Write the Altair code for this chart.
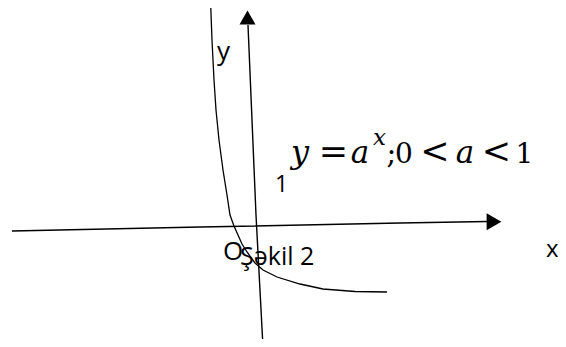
import altair as alt
import pandas as pd

# ---- diagram geometry (picture coordinates, y grows downward) ----
# vertical axis (bottom -> top, ends under the arrow head)
yaxis_x = [263, 256, 252, 248]
yaxis_y = [347, 215, 120, 25]
# horizontal axis (left -> right, ends under the arrow head)
xaxis_x = [12, 200, 400, 487]
xaxis_y = [231, 227, 223, 221.5]
# curve y = a^x, 0 < a < 1
curve_x = [210.5, 212, 214, 216, 219, 223, 227, 230, 234, 238, 242, 247, 255, 263, 277, 300, 323, 355, 387]
curve_y = [0, 40, 80, 110, 140, 170, 195, 215, 226, 235, 244, 252, 263, 270, 277, 284, 289, 291.5, 292]
# arrow heads
arrow_x = [247.5, 494]
arrow_y = [17.5, 221.8]
arrow_shape = ["triangle-up", "triangle-right"]
arrow_size = [256, 289]

# sans labels
label_text = ["y", "1", "O", "Şəkil 2", "x"]
label_x = [217, 275, 223, 240, 546]
label_y = [60, 192, 260, 265, 257]
label_size = [26, 23, 26, 25, 24]

# formula  y = a^x; 0 < a < 1  (upright and italic pieces, glyph centres)
formula_up_text = ["=", ";", "0", "<", "<", "1"]
formula_up_x = [333.5, 391.5, 404, 435, 496.5, 524.5]
formula_up_y = [163.3, 163.3, 163.3, 163.3, 163.3, 163.3]
formula_up_size = [35, 29, 28, 35, 35, 28]
formula_it_text = ["y", "a", "x", "a"]
formula_it_x = [300, 360, 379.5, 465]
formula_it_y = [163.3, 163.3, 145, 163.3]
formula_it_size = [32, 31, 23, 31]

W, H = 550, 331
xs = alt.Scale(domain=[8, 558], nice=False, zero=False)
ys = alt.Scale(domain=[8, 339], nice=False, zero=False, reverse=True)


def X():
    return alt.X("x:Q", scale=xs, axis=None)


def Y():
    return alt.Y("y:Q", scale=ys, axis=None)


def line_df(xv, yv):
    return pd.DataFrame({"x": xv, "y": yv, "o": list(range(len(xv)))})


yaxis = alt.Chart(line_df(yaxis_x, yaxis_y)).mark_line(color="black", strokeWidth=1.4).encode(
    x=X(), y=Y(), order="o:Q")
xaxis = alt.Chart(line_df(xaxis_x, xaxis_y)).mark_line(color="black", strokeWidth=1.5).encode(
    x=X(), y=Y(), order="o:Q")
curve = alt.Chart(line_df(curve_x, curve_y)).mark_line(color="black", strokeWidth=1.3).encode(
    x=X(), y=Y(), order="o:Q")

arrows = []
for ax, ay, sh, sz in zip(arrow_x, arrow_y, arrow_shape, arrow_size):
    arrows.append(
        alt.Chart(pd.DataFrame({"x": [ax], "y": [ay]})).mark_point(
            shape=sh, filled=True, size=sz, color="black", opacity=1, strokeWidth=0
        ).encode(x=X(), y=Y())
    )

labels = alt.Chart(pd.DataFrame({"x": label_x, "y": label_y, "t": label_text, "s": label_size})).mark_text(
    font="Open Sans", align="left", baseline="alphabetic", color="black"
).encode(x=X(), y=Y(), text="t:N", size=alt.Size("s:Q", scale=None))

f_up = alt.Chart(pd.DataFrame({"x": formula_up_x, "y": formula_up_y, "t": formula_up_text, "s": formula_up_size})).mark_text(
    font="DejaVu Serif", align="center", baseline="alphabetic", color="black"
).encode(x=X(), y=Y(), text="t:N", size=alt.Size("s:Q", scale=None))

f_it = alt.Chart(pd.DataFrame({"x": formula_it_x, "y": formula_it_y, "t": formula_it_text, "s": formula_it_size})).mark_text(
    font="DejaVu Serif", fontStyle="italic", align="center", baseline="alphabetic", color="black"
).encode(x=X(), y=Y(), text="t:N", size=alt.Size("s:Q", scale=None))

chart = alt.layer(yaxis, xaxis, curve, *arrows, labels, f_up, f_it).properties(
    width=W, height=H,
    autosize=alt.AutoSizeParams(type="none"),
    padding=0,
    background="white",
).configure_view(stroke=None)

chart.save("out.html", embed_options={"renderer": "svg", "actions": False})
